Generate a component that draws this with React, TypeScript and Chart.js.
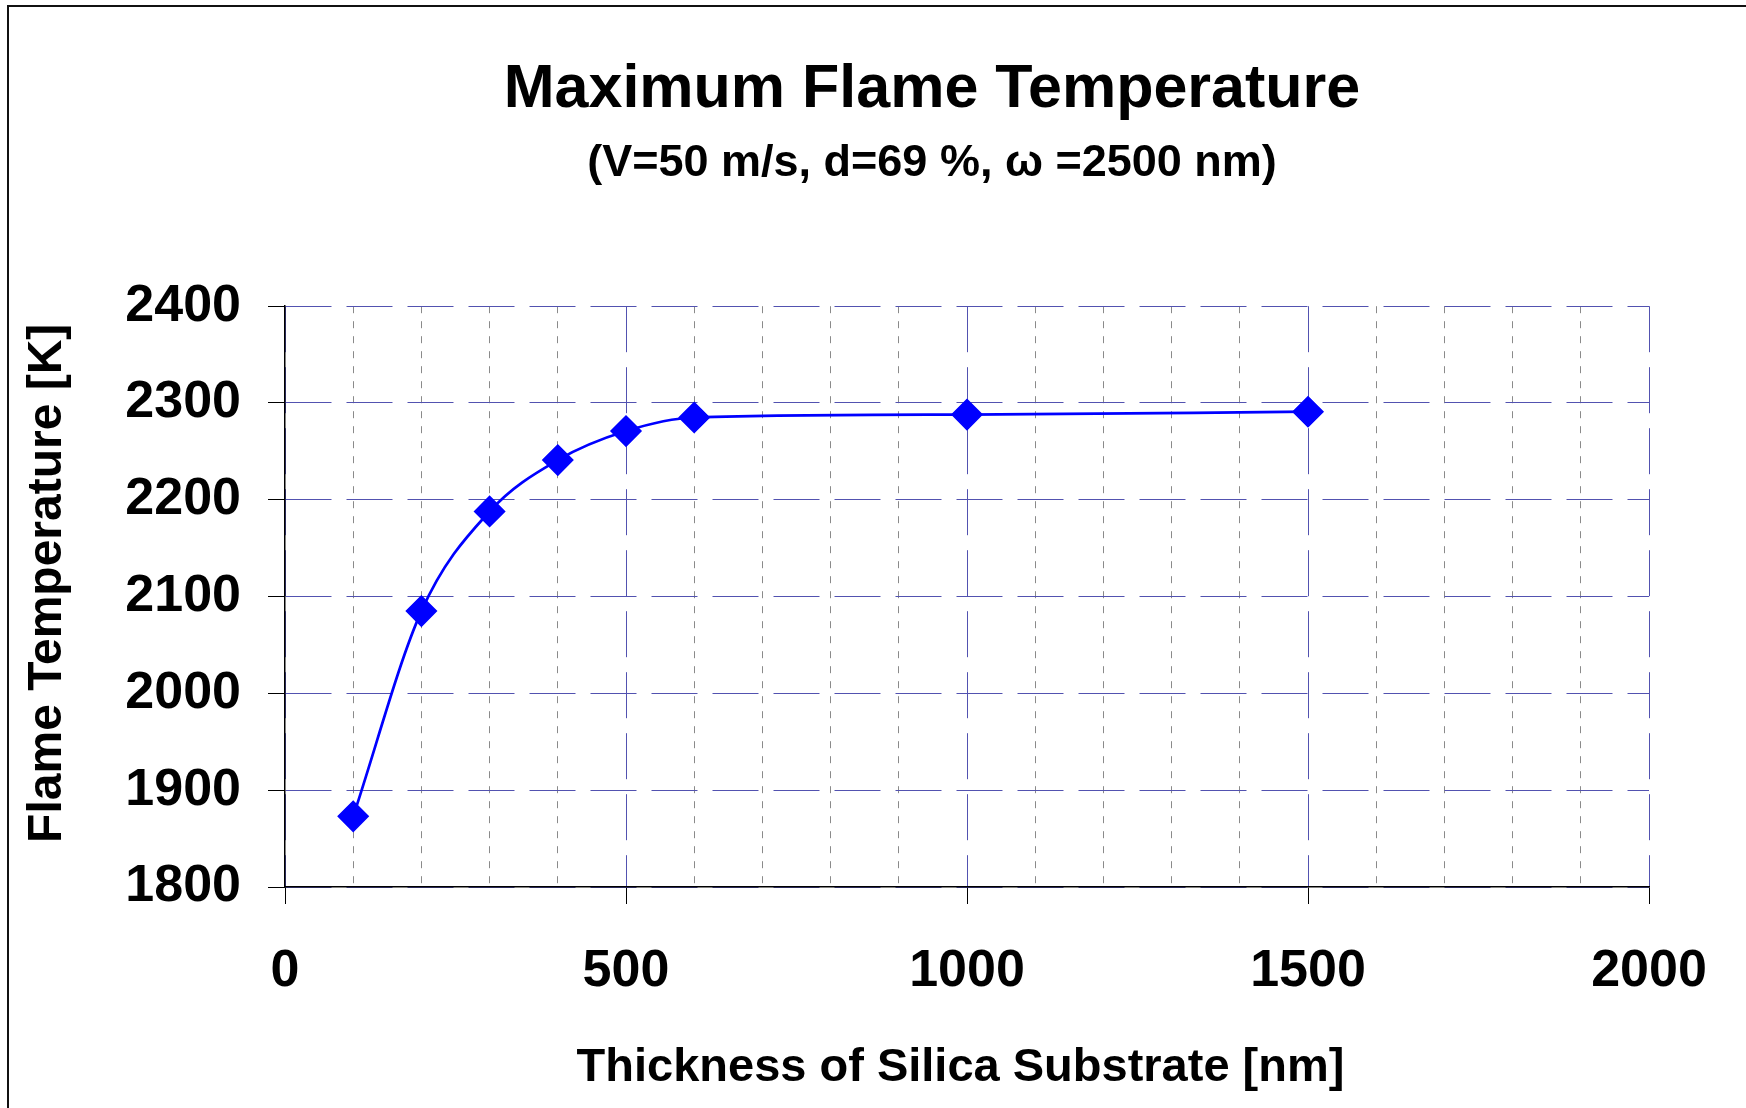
import React, { useEffect, useRef } from "react";
import { Chart, registerables } from "chart.js";

Chart.register(...registerables);

// ---- data ----
const thicknessNm = [100, 200, 300, 400, 500, 600, 1000, 1500];
const flameTempK = [1873, 2085, 2188, 2241, 2271, 2285, 2288, 2291];
const xMin = 0;
const xMax = 2000;
const xMajorStep = 500;
const xMinorStep = 100;
const yMin = 1800;
const yMax = 2400;
const yStep = 100;
const titleText = "Maximum Flame Temperature";
const subtitleText = "(V=50 m/s, d=69 %, ω =2500 nm)";
const xTitle = "Thickness of Silica Substrate [nm] ";
const yTitle = "  Flame Temperature [K]";

const FONT = "'Liberation Sans', Arial, Helvetica, sans-serif";
const BLUE_GRID = "#5252b0";
const GRAY_GRID = "#8a8a8a";

// shifts the (full-width) title blocks so that they are centred like the original
const titleShiftPlugin = {
  id: "titleShift",
  afterLayout(chart: any) {
    chart.boxes.forEach((b: any) => {
      if (!b.axis && b.options && typeof b.options.text === "string") {
        b.left = 215;
      }
    });
  },
};

export default function App() {
  const canvasRef = useRef<HTMLCanvasElement | null>(null);

  useEffect(() => {
    const canvas = canvasRef.current;
    if (!canvas) return;
    const isMajor = (ctx: any) =>
      ctx && ctx.tick && Math.round(ctx.tick.value) % xMajorStep === 0;

    const chart = new Chart(canvas, {
      type: "line",
      data: {
        datasets: [
          {
            data: thicknessNm.map((x, i) => ({ x, y: flameTempK[i] })),
            borderColor: "#0000ff",
            backgroundColor: "#0000ff",
            borderWidth: 2.7,
            pointStyle: "rectRot",
            pointRadius: 15,
            pointBorderWidth: 1.5,
            pointBackgroundColor: "#0000ff",
            pointBorderColor: "#0000ff",
            cubicInterpolationMode: "monotone",
            fill: false,
          },
        ],
      },
      options: {
        responsive: false,
        animation: false,
        devicePixelRatio: 1,
        layout: { padding: { left: 0, right: 97, top: 0, bottom: 12 } },
        plugins: {
          legend: { display: false },
          tooltip: { enabled: false },
          title: {
            display: true,
            text: titleText,
            color: "#000",
            font: { family: FONT, size: 61, weight: "bold", lineHeight: 1.2 },
            padding: { top: 54, bottom: 9 },
          },
          subtitle: {
            display: true,
            text: subtitleText,
            color: "#000",
            font: { family: FONT, size: 45, weight: "bold", lineHeight: 1.2 },
            padding: { top: 0, bottom: 116 },
          },
        },
        scales: {
          x: {
            type: "linear",
            min: xMin,
            max: xMax,
            afterFit: (scale: any) => {
              scale.height = 209;
            },
            ticks: {
              stepSize: xMinorStep,
              autoSkip: false,
              maxRotation: 0,
              padding: 36,
              color: "#000",
              font: { family: FONT, size: 52, weight: "bold", lineHeight: 1.2 },
              callback: (v: any) =>
                Math.round(Number(v)) % xMajorStep === 0 ? String(v) : "",
            },
            grid: {
              color: (ctx: any) => (isMajor(ctx) ? BLUE_GRID : GRAY_GRID),
              lineWidth: 1,
              tickLength: 17,
              tickColor: (ctx: any) => (isMajor(ctx) ? "#000" : "rgba(0,0,0,0)"),
              tickBorderDash: [],
            },
            border: {
              display: true,
              color: "#000",
              width: 1.5,
              dash: (ctx: any) => (isMajor(ctx) ? [46, 15] : [7, 8]),
            },
            title: {
              display: true,
              text: xTitle,
              color: "#000",
              font: { family: FONT, size: 47, weight: "bold", lineHeight: 1.2 },
              padding: { top: 0, bottom: 0 },
            },
          },
          y: {
            type: "linear",
            min: yMin,
            max: yMax,
            afterFit: (scale: any) => {
              scale.width = 285;
            },
            ticks: {
              stepSize: yStep,
              padding: 27,
              color: "#000",
              font: { family: FONT, size: 52, weight: "bold", lineHeight: 1.2 },
              callback: (v: any) => String(Math.round(Number(v))),
            },
            grid: {
              color: BLUE_GRID,
              lineWidth: 1,
              tickLength: 17,
              tickColor: "#000",
              tickBorderDash: [],
            },
            border: {
              display: true,
              color: "#000",
              width: 1.5,
              dash: [46, 15],
            },
            title: {
              display: true,
              text: yTitle,
              color: "#000",
              font: { family: FONT, size: 48, weight: "bold", lineHeight: 1.2 },
              padding: { top: 19, bottom: 0 },
            },
          },
        },
      } as any,
      plugins: [titleShiftPlugin as any],
    });
    return () => chart.destroy();
  }, []);

  return (
    <div
      style={{
        position: "absolute",
        left: 0,
        top: 0,
        width: 1746,
        height: 1108,
        background: "#fff",
        overflow: "hidden",
      }}
    >
      <div
        style={{
          position: "absolute",
          left: 7,
          top: 5,
          width: 2000,
          height: 2000,
          borderLeft: "2px solid #111",
          borderTop: "2px solid #111",
        }}
      />
      <canvas
        ref={canvasRef}
        width={1746}
        height={1108}
        style={{ position: "absolute", left: 0, top: 0 }}
      />
    </div>
  );
}
